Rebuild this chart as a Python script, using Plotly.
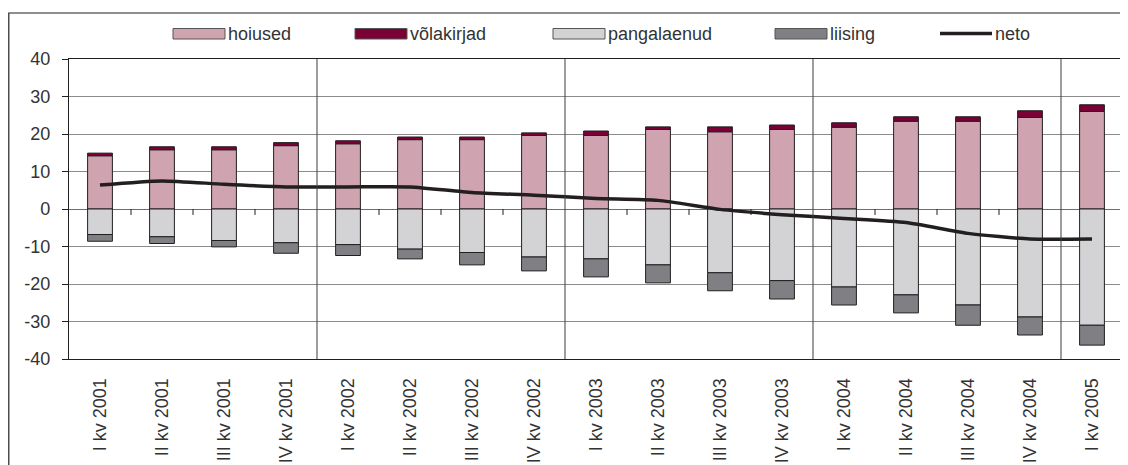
import plotly.graph_objects as go

categories = ["I kv 2001", "II kv 2001", "III kv 2001", "IV kv 2001",
              "I kv 2002", "II kv 2002", "III kv 2002", "IV kv 2002",
              "I kv 2003", "II kv 2003", "III kv 2003", "IV kv 2003",
              "I kv 2004", "II kv 2004", "III kv 2004", "IV kv 2004",
              "I kv 2005"]
hoiused = [14.2, 15.8, 15.8, 16.9, 17.4, 18.5, 18.5, 19.6, 19.6, 21.2, 20.6, 21.2,
           21.8, 23.4, 23.4, 24.4, 26.0]
volakirjad = [0.7, 0.8, 0.8, 0.8, 0.8, 0.7, 0.7, 0.7, 1.2, 0.7, 1.3, 1.2,
              1.2, 1.2, 1.2, 1.8, 1.8]
pangalaenud = [-6.8, -7.4, -8.4, -9.0, -9.5, -10.7, -11.6, -12.8, -13.3, -14.9, -17.0,
               -19.1, -20.8, -22.9, -25.6, -28.8, -31.0]
liising = [-1.8, -1.8, -1.7, -2.8, -2.9, -2.6, -3.3, -3.7, -4.8, -4.8, -4.8, -4.9,
           -4.8, -4.8, -5.4, -4.8, -5.3]
neto = [6.4, 7.5, 6.6, 5.9, 5.9, 5.9, 4.4, 3.7, 2.8, 2.3, -0.1, -1.5, -2.5, -3.6,
        -6.5, -8.0, -8.0]
y_ticks = [-40, -30, -20, -10, 0, 10, 20, 30, 40]
y_ticktext = [str(v) for v in y_ticks]

names = ["hoiused", "võlakirjad", "pangalaenud", "liising", "neto"]
colors = ["#cfa3af", "#7a0036", "#d3d3d5", "#808084", "#231f20"]
outline = "#231f20"
FONT = "Liberation Sans, Arial, sans-serif"
TXT = "#333333"
FS = 18

# page body adds an 8px offset; work in window pixels and subtract it
OFF = 8
W, H = 1128 - OFF, 465 - OFF
ML, MT = 69 - OFF, 59 - OFF
MR = W - (1123 - OFF)
MB = H - (359 - OFF)
PW, PH = W - ML - MR, H - MT - MB


def px_x(p):
    return (p - OFF - ML) / PW


def px_y(p):
    return 1 - (p - OFF - MT) / PH


fig = go.Figure()
series = [hoiused, volakirjad, pangalaenud, liising]
for name, vals, col in zip(names[:4], series, colors[:4]):
    fig.add_trace(go.Bar(x=categories, y=vals, name=name, width=0.4,
                         marker=dict(color=col, line=dict(color=outline, width=1)),
                         showlegend=False))
fig.add_trace(go.Scatter(x=categories, y=neto, name="neto", mode="lines",
                         line=dict(color=colors[4], width=3.5, shape="spline", smoothing=0.6),
                         showlegend=False))

shapes = []
# year separators and category tick marks on the zero line
years = [c.split()[-1] for c in categories]
for i in range(1, len(years)):
    if years[i] != years[i - 1]:
        shapes.append(dict(type="line", xref="x", yref="y", x0=i - 0.5, x1=i - 0.5,
                           y0=y_ticks[0], y1=y_ticks[-1],
                           line=dict(color="#3c3c3c", width=1), layer="above"))
    else:
        shapes.append(dict(type="line", xref="x", yref="y", x0=i - 0.5, x1=i - 0.5,
                           y0=0, y1=-1.6, line=dict(color="#231f20", width=1), layer="above"))

# outer frame
shapes.append(dict(type="rect", xref="paper", yref="paper",
                   x0=px_x(8.8), x1=px_x(1140), y0=px_y(480), y1=px_y(13),
                   line=dict(color="#231f20", width=1.2), fillcolor="rgba(0,0,0,0)"))

# legend drawn as a row of swatches
annotations = []
legend_x = [173, 355, 553, 775, 940]
for k, (name, col, lx) in enumerate(zip(names, colors, legend_x)):
    if k < 4:
        shapes.append(dict(type="rect", xref="paper", yref="paper",
                           x0=px_x(lx), x1=px_x(lx + 52), y0=px_y(39), y1=px_y(28.5),
                           fillcolor=col, line=dict(color="#555555", width=1)))
    else:
        shapes.append(dict(type="line", xref="paper", yref="paper",
                           x0=px_x(lx), x1=px_x(lx + 52), y0=px_y(33.5), y1=px_y(33.5),
                           line=dict(color=col, width=3.5)))
    annotations.append(dict(text=name, xref="paper", yref="paper",
                            x=px_x(lx + 53), y=px_y(33.5), xanchor="left", yanchor="middle",
                            showarrow=False, font=dict(family=FONT, size=FS, color=TXT)))

fig.update_layout(
    width=W, height=H,
    margin=dict(l=ML, r=MR, t=MT, b=MB, autoexpand=False),
    paper_bgcolor="white", plot_bgcolor="white",
    barmode="relative", bargap=0.6,
    font=dict(family=FONT, size=FS, color=TXT),
    shapes=shapes, annotations=annotations,
    showlegend=False,
)
fig.update_xaxes(type="category", tickangle=-90, showgrid=False, ticks="",
                 ticklabelstandoff=11, showline=True, linecolor="#231f20", linewidth=1.2,
                 mirror=True, tickfont=dict(size=FS), automargin=False,
                 range=[-0.5, len(categories) - 0.5])
fig.update_yaxes(range=[y_ticks[0], y_ticks[-1]], tickvals=y_ticks, ticktext=y_ticktext,
                 showgrid=True, gridcolor="#8c8c8c", gridwidth=1, zeroline=True,
                 zerolinecolor="#6e6e6e", zerolinewidth=1, ticks="outside", ticklen=6,
                 tickcolor="#231f20", ticklabelstandoff=8, showline=True,
                 linecolor="#231f20", linewidth=1.2, mirror=True, tickfont=dict(size=FS),
                 automargin=False)

fig.write_html("out.html")
